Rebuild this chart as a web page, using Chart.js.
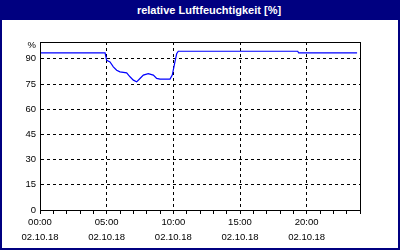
<!DOCTYPE html>
<html lang="de">
<head>
  <meta charset="UTF-8">
  <title>relative Luftfeuchtigkeit</title>
  <script src="https://cdn.jsdelivr.net/npm/chart.js"></script>
  <style>
    body { margin: 0; background: #fff; }
    .frame { position: relative; width: 400px; height: 250px; box-sizing: border-box; border: 2px solid #000080; background: #fff; overflow: hidden; }
    .titlebar { position: absolute; left: -2px; top: -2px; width: 400px; height: 20px; background: #000080; color: #fff;
                font: bold 11px "Liberation Sans", Arial, sans-serif; line-height: 20px; text-align: center; padding-left: 18px; box-sizing: border-box; }
    canvas { position: absolute; left: -2px; top: -2px; }
  </style>
</head>
<body>
  <div class="frame">
    <div class="titlebar">relative Luftfeuchtigkeit [%]</div>
    <canvas id="humChart" width="400" height="250"></canvas>
  </div>
<script>
// Stunden seit 00:00 und Messwerte (%)
const hours  = [0, 4.88, 5.0, 5.25, 5.5, 5.75, 6.0, 6.5, 6.75, 7.0, 7.25, 7.5, 7.75, 8.12, 8.5, 8.75, 9.0, 9.75, 9.92, 10.12, 10.25, 10.37, 19.33, 19.4, 23.78];
const values = [93.5, 93.5, 89.1, 88.1, 85.2, 83.2, 82.2, 81.6, 79.3, 77.3, 76.3, 78.3, 80.3, 81.2, 80.3, 78.3, 77.9, 77.9, 80.3, 88.1, 93.0, 94.5, 94.5, 93.5, 93.5];
const yTicks = [0, 15, 30, 45, 60, 75, 90, 98];
const xLabelHours = [0, 5, 10, 15, 20];
const dateLabel = "02.10.18";

const points = hours.map((h, i) => ({ x: h, y: values[i] }));
const font = { family: "Liberation Sans", size: 9.5, lineHeight: "15px" };

// Rahmen um den Plotbereich
const framePlugin = {
  id: "frame",
  afterDraw(chart) {
    const a = chart.chartArea, ctx = chart.ctx;
    ctx.save();
    ctx.strokeStyle = "#000";
    ctx.lineWidth = 1;
    ctx.strokeRect(Math.round(a.left) + 0.5, Math.round(a.top) + 0.5, Math.round(a.right - a.left), Math.round(a.bottom - a.top));
    ctx.restore();
  }
};

new Chart(document.getElementById("humChart"), {
  type: "line",
  data: {
    datasets: [{
      data: points,
      borderColor: "#0000ff",
      borderWidth: 1.2,
      pointRadius: 0,
      tension: 0,
      fill: false
    }]
  },
  options: {
    responsive: false,
    animation: false,
    layout: { padding: { top: 42, right: 40, left: 2, bottom: 0 } },
    plugins: { legend: { display: false }, tooltip: { enabled: false } },
    scales: {
      x: {
        type: "linear", min: 0, max: 24,
        afterFit: s => { s.height = 40; },
        ticks: {
          stepSize: 1, autoSkip: false, maxRotation: 0, padding: 1,
          color: "#000", font,
          callback: v => xLabelHours.includes(v) ? [String(v).padStart(2, "0") + ":00", dateLabel] : ""
        },
        grid: {
          color: c => (c.tick && c.tick.value % 5 === 0 && c.tick.value > 0 && c.tick.value < 24) ? "#000" : "transparent",
          tickColor: "#000", tickLength: 4, lineWidth: 1
        },
        border: { display: true, color: "#000", dash: [3, 3] }
      },
      y: {
        min: 0, max: 100,
        afterFit: s => { s.width = 38; },
        afterBuildTicks: s => { s.ticks = yTicks.map(v => ({ value: v })); },
        ticks: {
          padding: 4, color: "#000", font,
          callback: v => v === 98 ? "%" : String(v)
        },
        grid: {
          color: c => (c.tick && c.tick.value > 0 && c.tick.value < 98) ? "#000" : "transparent",
          drawTicks: false, lineWidth: 1
        },
        border: { display: true, color: "#000", dash: [3, 3] }
      }
    }
  },
  plugins: [framePlugin]
});
</script>
</body>
</html>
